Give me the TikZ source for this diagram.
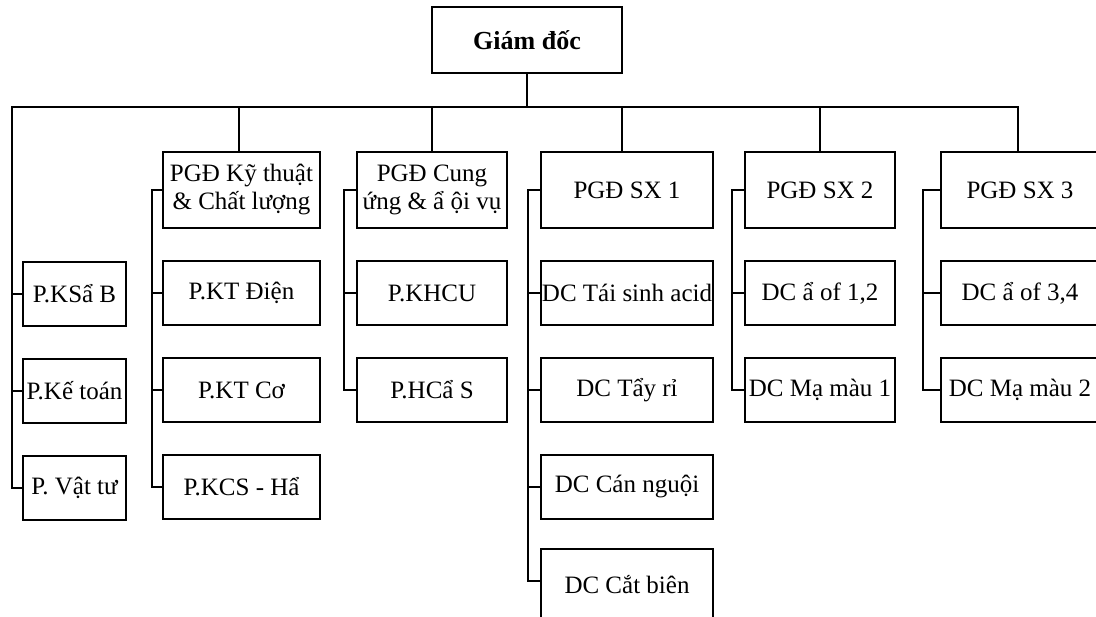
\documentclass[tikz,border=0pt]{standalone}
\usepackage{fontspec}
\setmainfont{Liberation Serif}
\usepackage{tikz}
\usetikzlibrary{calc,positioning}
\tikzset{
  ogtop/.style={draw, line width=2.6pt, outer sep=0pt, inner sep=2pt, minimum width=190pt, minimum height=66pt, align=center, font=\fontsize{26}{28}\selectfont\bfseries},
  oghead/.style={draw, line width=2.6pt, outer sep=0pt, inner sep=2pt, minimum width=#1, minimum height=76pt, align=center, font=\fontsize{25}{28}\selectfont},
  ogbox/.style={draw, line width=2.6pt, outer sep=0pt, inner sep=1pt, minimum width=#1, minimum height=64pt, align=center, font=\fontsize{25}{28}\selectfont},
  ogline/.style={line width=2.6pt, line cap=rect}
}

\begin{document}
\begin{tikzpicture}[x=1pt, y=-1pt, node distance=33pt and 20pt]
  \useasboundingbox[fill=white] (0,0) rectangle (1096,617);
  \clip (0,0) rectangle (1096,617);
  % giam doc
  \node[ogtop] (gd) at (527,40) {Giám đốc};
  % cac pho giam doc
  \node[oghead=157pt] (kt) at (241.5,190) {PGĐ Kỹ thuật\\\& Chất lượng};
  \node[oghead=150pt] (cu) at (432,190) {PGĐ Cung\\ứng \& ẩ ội vụ};
  \node[oghead=172pt] (sx1) at (627,190) {PGĐ SX 1};
  \node[oghead=150pt] (sx2) at (820,190) {PGĐ SX 2};
  \node[oghead=158pt] (sx3) at (1020,190) {PGĐ SX 3};
  % cac phong truc thuoc giam doc
  \node[ogbox=103pt] (ks) at (74.5,294) {P.KSẩ B};
  \node[ogbox=103pt, below=of ks] (ketoan) {P.Kế toán};
  \node[ogbox=103pt, below=of ketoan] (vattu) {P. Vật tư};
  % khoi ky thuat
  \node[ogbox=157pt, below=of kt] (ktdien) {P.KT Điện};
  \node[ogbox=157pt, below=of ktdien] (ktco) {P.KT Cơ};
  \node[ogbox=157pt, below=of ktco] (kcs) {P.KCS - Hẩ};
  % khoi cung ung
  \node[ogbox=150pt, below=of cu] (khcu) {P.KHCU};
  \node[ogbox=150pt, below=of khcu] (hcs) {P.HCẩ S};
  % khoi san xuat 1
  \node[ogbox=172pt, below=of sx1] (taisinh) {DC Tái sinh acid};
  \node[ogbox=172pt, below=of taisinh] (tayri) {DC Tẩy rỉ};
  \node[ogbox=172pt, below=of tayri] (cannguoi) {DC Cán nguội};
  \node[ogbox=172pt, minimum height=72pt, below=34pt of cannguoi, yshift=4pt] (catbien) {DC Cắt biên};
  % khoi san xuat 2
  \node[ogbox=150pt, below=of sx2] (of12) {DC ẩ of 1,2};
  \node[ogbox=150pt, below=of of12] (mamau1) {DC Mạ màu 1};
  % khoi san xuat 3
  \node[ogbox=158pt, below=of sx3] (of34) {DC ẩ of 3,4};
  \node[ogbox=158pt, below=of of34] (mamau2) {DC Mạ màu 2};
  % duong truc chinh
  \coordinate (busL) at (12,107);
  \coordinate (busR) at (1018,107);
  \coordinate (ktin) at ($(kt.north)+(-2.5,0)$);
  \coordinate (sx1in) at ($(sx1.north)+(-5,0)$);
  \draw[ogline] (busL) -- (busR);
  \draw[ogline] (gd.south) -- (gd.south |- busL);
  \draw[ogline] (ktin) -- (ktin |- busL);
  \draw[ogline] (cu.north) -- (cu.north |- busL);
  \draw[ogline] (sx1in) -- (sx1in |- busL);
  \draw[ogline] (sx2.north) -- (sx2.north |- busL);
  \draw[ogline] (busR) -- (busR |- sx3.north);
  % cot trai
  \draw[ogline] (busL) |- (vattu.west);
  \draw[ogline] (busL |- ks.west) -- (ks.west);
  \draw[ogline] (busL |- ketoan.west) -- (ketoan.west);
  % nhanh con
  \coordinate (ktsp) at ($(kt.west)+(-11,0)$);
  \draw[ogline] (kt.west) -- (ktsp) |- (kcs.west);
  \draw[ogline] (ktsp |- ktdien.west) -- (ktdien.west);
  \draw[ogline] (ktsp |- ktco.west) -- (ktco.west);
  \coordinate (cusp) at ($(cu.west)+(-13,0)$);
  \draw[ogline] (cu.west) -- (cusp) |- (hcs.west);
  \draw[ogline] (cusp |- khcu.west) -- (khcu.west);
  \coordinate (sx1sp) at ($(sx1.west)+(-13,0)$);
  \coordinate (cbjoin) at ($(catbien.north west)+(0,32)$);
  \draw[ogline] (sx1.west) -- (sx1sp) |- (cbjoin);
  \draw[ogline] (sx1sp |- taisinh.west) -- (taisinh.west);
  \draw[ogline] (sx1sp |- tayri.west) -- (tayri.west);
  \draw[ogline] (sx1sp |- cannguoi.west) -- (cannguoi.west);
  \coordinate (sx2sp) at ($(sx2.west)+(-13,0)$);
  \draw[ogline] (sx2.west) -- (sx2sp) |- (mamau1.west);
  \draw[ogline] (sx2sp |- of12.west) -- (of12.west);
  \coordinate (sx3sp) at ($(sx3.west)+(-18,0)$);
  \draw[ogline] (sx3.west) -- (sx3sp) |- (mamau2.west);
  \draw[ogline] (sx3sp |- of34.west) -- (of34.west);
\end{tikzpicture}
\end{document}
